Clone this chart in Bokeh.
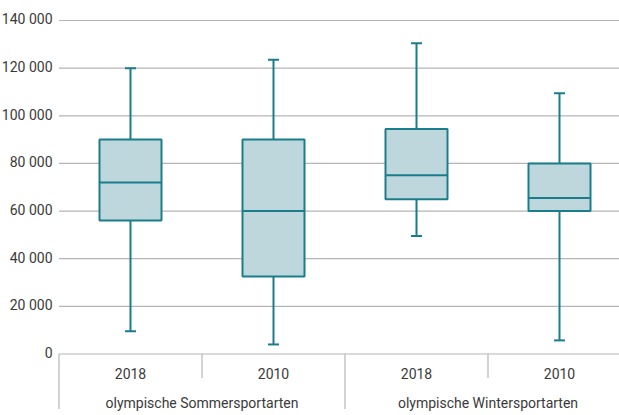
from bokeh.plotting import figure
from bokeh.models import Range1d, ColumnDataSource
from bokeh.embed import file_html
from bokeh.resources import INLINE
from bokeh.core.properties import value

# ---- data ----
groups = ["olympische Sommersportarten", "olympische Wintersportarten"]
years = ["2018", "2010", "2018", "2010"]
group_index = [0, 0, 1, 1]
whisker_low = [9500, 4000, 49500, 5700]
q1 = [56000, 32500, 65000, 60000]
median = [72000, 60000, 75000, 65500]
q3 = [90000, 90000, 94500, 80000]
whisker_high = [120000, 123500, 130500, 109500]
y_ticks = [0, 20000, 40000, 60000, 80000, 100000, 120000, 140000]
y_tick_labels = ["0", "20 000", "40 000", "60 000", "80 000", "100 000", "120 000", "140 000"]

# ---- style / layout ----
FONT = "Roboto"
TEXT_COLOR = "#3a3a3a"
GRID_COLOR = "#b5b5b5"
BOX_FILL = "#bdd7dd"
BOX_LINE = "#1a7d8b"
PX_PER_CAT = 143.0
PX_PER_20K = 47.64
UNITS_PER_PX = 20000 / PX_PER_20K
CAT_PER_PX = 1 / PX_PER_CAT

W, H = 619, 415
LEFT_PX = 58.5      # where the category area starts
x_left = -LEFT_PX * CAT_PER_PX
x_right = (W - LEFT_PX) * CAT_PER_PX
y_top = 140000 + 20 * UNITS_PER_PX
y_bottom = y_top - H * UNITS_PER_PX

p = figure(
    frame_width=W, frame_height=H,
    x_range=Range1d(x_left, x_right),
    y_range=Range1d(y_bottom, y_top),
    output_backend="svg", toolbar_location=None,
    min_border_left=0, min_border_right=0, min_border_top=0, min_border_bottom=0,
    x_axis_location=None, y_axis_location=None,
)
p.outline_line_color = None
p.background_fill_color = "white"
p.border_fill_color = "white"
p.xgrid.visible = False
p.ygrid.visible = False

# horizontal grid lines (the 0 line acts as the x axis line)
p.segment(x0=[0] * len(y_ticks), y0=y_ticks, x1=[x_right] * len(y_ticks), y1=y_ticks,
          line_color=GRID_COLOR, line_width=1.2)

# y tick labels
p.text(x=[-6.5 * CAT_PER_PX] * len(y_ticks), y=[t + 1.2 * UNITS_PER_PX for t in y_ticks],
       text=y_tick_labels, text_align="right", text_baseline="middle",
       text_font=value(FONT), text_font_size="14px", text_color=TEXT_COLOR)

# category positions
xs = [i + 0.5 for i in range(len(years))]
box_w = 62 * CAT_PER_PX
cap_w = 11 * CAT_PER_PX

src = ColumnDataSource(dict(
    x=xs, lo=whisker_low, q1=q1, med=median, q3=q3, hi=whisker_high,
    xl=[x - box_w / 2 for x in xs], xr=[x + box_w / 2 for x in xs],
    cl=[x - cap_w / 2 for x in xs], cr=[x + cap_w / 2 for x in xs],
))

# whiskers
p.segment(x0="x", y0="q3", x1="x", y1="hi", source=src, line_color=BOX_LINE, line_width=2)
p.segment(x0="x", y0="q1", x1="x", y1="lo", source=src, line_color=BOX_LINE, line_width=2)
p.segment(x0="cl", y0="hi", x1="cr", y1="hi", source=src, line_color=BOX_LINE, line_width=2)
p.segment(x0="cl", y0="lo", x1="cr", y1="lo", source=src, line_color=BOX_LINE, line_width=2)
# boxes
p.vbar(x="x", width=box_w, bottom="q1", top="q3", source=src,
       fill_color=BOX_FILL, line_color=BOX_LINE, line_width=2)
p.segment(x0="xl", y0="med", x1="xr", y1="med", source=src, line_color=BOX_LINE, line_width=2)

# x axis separators (group boundaries long, inner boundaries short)
sep_x, sep_y = [], []
for i in range(len(years)):
    is_group_start = (i == 0) or (group_index[i] != group_index[i - 1])
    sep_x.append(i)
    sep_y.append(-(55 if is_group_start else 24) * UNITS_PER_PX)
p.segment(x0=sep_x, y0=[0] * len(sep_x), x1=sep_x, y1=sep_y, line_color=GRID_COLOR, line_width=1.2)

# category labels
p.text(x=xs, y=[-19.5 * UNITS_PER_PX] * len(xs), text=years,
       text_align="center", text_baseline="middle",
       text_font=value(FONT), text_font_size="14px", text_color=TEXT_COLOR)
gx = []
for g in range(len(groups)):
    idx = [i for i in range(len(years)) if group_index[i] == g]
    gx.append((min(idx) + max(idx) + 1) / 2)
p.text(x=gx, y=[-49 * UNITS_PER_PX] * len(gx), text=groups,
       text_align="center", text_baseline="middle",
       text_font=value(FONT), text_font_size="14px", text_color=TEXT_COLOR)

open("out.html", "w").write(file_html(p, INLINE))
